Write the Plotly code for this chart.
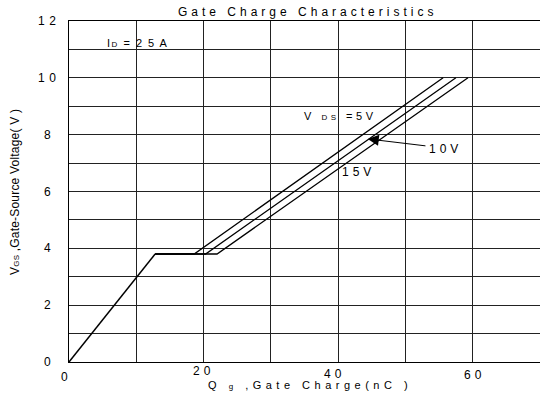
import plotly.graph_objects as go

# Data
qg_rise = [0, 12.8]
vgs_rise = [0, 3.8]
series_names = ["VDS=5V", "VDS=10V", "VDS=15V"]
plateau_end = [18.6, 20.3, 22.0]
qg_at_10v = [55.6, 57.5, 59.3]
vgs_plateau = 3.8
vgs_top = 10.0

x_grid = [0, 10, 20, 30, 40, 50, 60, 70]
x_label_vals = [0, 20, 40, 60]
x_label_text = ["0", "20", "40", "60"]
y_grid = list(range(0, 13))
y_label_vals = [0, 2, 4, 6, 8, 10, 12]
y_label_text = ["0", "2", "4", "6", "8", "10", "12"]

FONT = "Liberation Sans, Arial, sans-serif"


def ls(s, px):
    return "<span style='letter-spacing:%.1fpx'>%s</span>" % (px, s)


def small(s, size=8):
    return "<span style='font-size:%dpx'>%s</span>" % (size, s)


# layout geometry (pixels)
L, R, T, B = 69, 540, 21, 362
W, H = 540, 398


def px_x(p):
    return (p - L) / (R - L)


def px_y(p):
    return (B - p) / (B - T)


fig = go.Figure()
fig.add_trace(go.Scatter(x=qg_rise, y=vgs_rise, mode="lines",
                         line=dict(color="black", width=1.5), showlegend=False))
for name, pe, qt in zip(series_names, plateau_end, qg_at_10v):
    fig.add_trace(go.Scatter(x=[qg_rise[1], pe, qt], y=[vgs_plateau, vgs_plateau, vgs_top],
                             mode="lines", name=name,
                             line=dict(color="black", width=1.3), showlegend=False))

fig.update_layout(
    width=W, height=H,
    margin=dict(l=L, r=W - R, t=T, b=H - B),
    paper_bgcolor="white", plot_bgcolor="white",
    font=dict(family=FONT, size=12, color="black"),
    showlegend=False,
)
fig.update_xaxes(range=[0, 70], tickvals=x_grid, showticklabels=False,
                 showgrid=True, gridcolor="#222", gridwidth=1,
                 showline=True, linecolor="black", linewidth=1, mirror=True,
                 zeroline=False, ticks="")
fig.update_yaxes(range=[0, 12], tickvals=y_grid, showticklabels=False,
                 showgrid=True, gridcolor="#222", gridwidth=1,
                 showline=True, linecolor="black", linewidth=1, mirror=True,
                 zeroline=False, ticks="")

# y tick labels
for v, t in zip(y_label_vals, y_label_text):
    fig.add_annotation(text=ls(t, 4.5), xref="paper", yref="y", x=px_x(49), y=v,
                       showarrow=False, xanchor="center", yanchor="middle",
                       font=dict(size=12))
# x tick labels (slightly staggered as in the original)
x_label_py = [377, 371, 374, 375]
x_label_px_off = [-3, 0, -4, 2]
for v, t, py, off in zip(x_label_vals, x_label_text, x_label_py, x_label_px_off):
    fig.add_annotation(text=ls(t, 4), xref="x", yref="paper", x=v, y=px_y(py),
                       xshift=off, showarrow=False, xanchor="center", yanchor="middle",
                       font=dict(size=12))

# title
fig.add_annotation(text=ls("Gate Charge Characteristics", 4), xref="paper", yref="paper",
                   x=px_x(307), y=px_y(12), showarrow=False, xanchor="center", yanchor="middle",
                   font=dict(size=12))
# x axis title
fig.add_annotation(text=ls("Q " + small("g") + " ,Gate Charge(nC )", 4.5),
                   xref="paper", yref="paper",
                   x=px_x(310), y=px_y(385), showarrow=False, xanchor="center", yanchor="middle",
                   font=dict(size=11))
# y axis title
fig.add_annotation(text=ls("V" + small("GS") + " ,Gate-Source Voltage( V )", 0.2),
                   xref="paper", yref="paper", textangle=-90,
                   x=px_x(15), y=px_y(192), showarrow=False, xanchor="center", yanchor="middle",
                   font=dict(size=12))

# in-plot labels
fig.add_annotation(text=ls("I" + small("D") + " = 2 5 A", 1.5),
                   x=10.25, y=11.22, showarrow=False, xanchor="center", yanchor="middle",
                   font=dict(size=11))
fig.add_annotation(text=ls("V " + small("DS") + " =5V", 3.5),
                   x=40.27, y=8.66, showarrow=False, xanchor="center", yanchor="middle",
                   font=dict(size=11))
fig.add_annotation(text=ls("10V", 4), x=55.9, y=7.49, showarrow=False,
                   xanchor="center", yanchor="middle", font=dict(size=12))
fig.add_annotation(text=ls("15V", 4), x=43.0, y=6.69, showarrow=False,
                   xanchor="center", yanchor="middle", font=dict(size=12))
fig.add_annotation(x=44.4, y=7.85, ax=53.2, ay=7.6, axref="x", ayref="y",
                   text="", showarrow=True, arrowhead=2, arrowsize=2.2,
                   arrowwidth=1, arrowcolor="black")

fig.write_html("out.html", config={"displayModeBar": False},
               post_script="document.body.style.margin='0';")
